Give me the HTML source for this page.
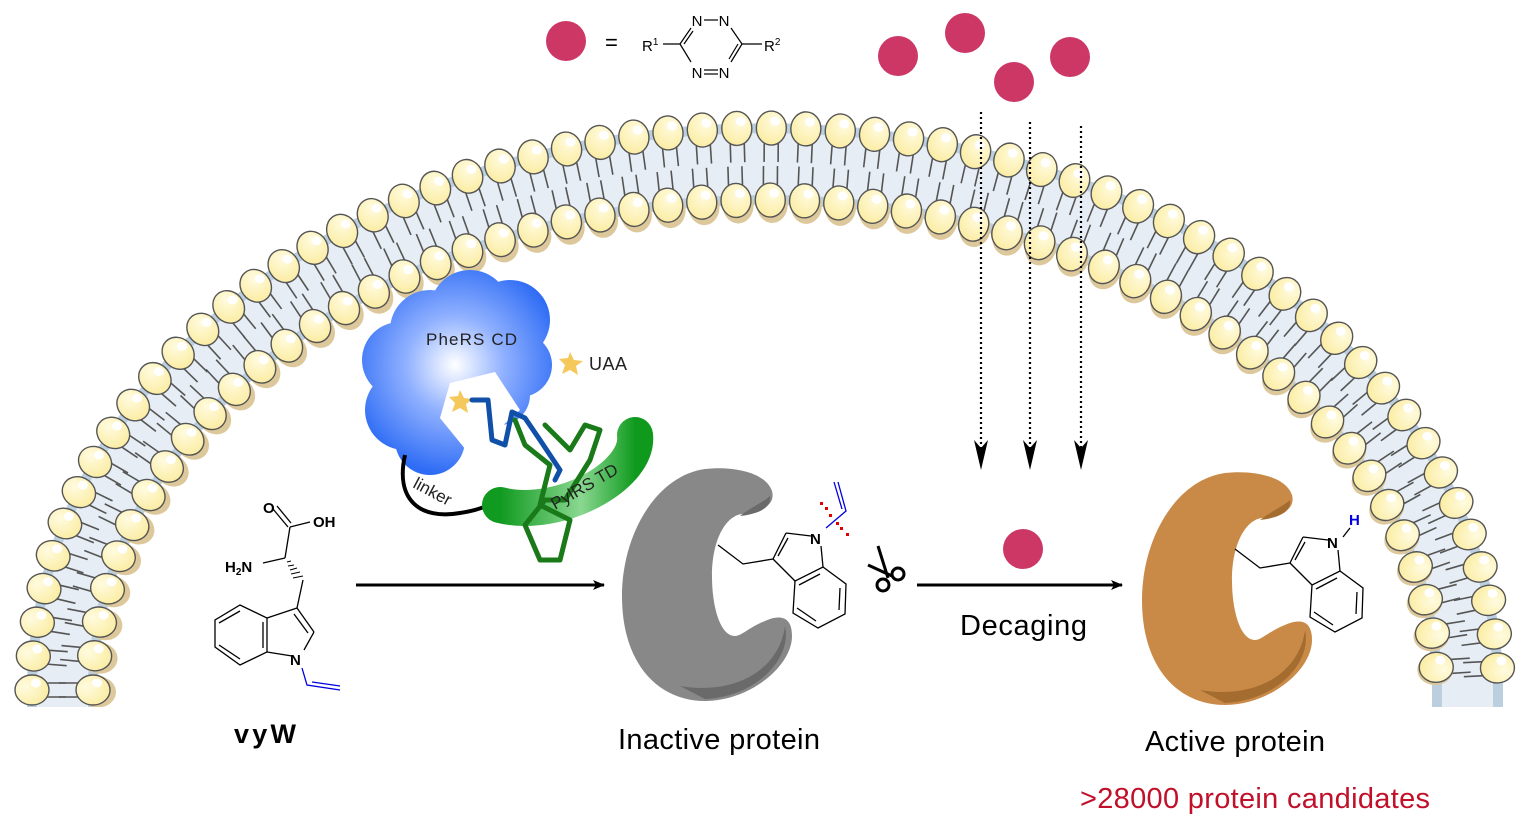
<!DOCTYPE html>
<html><head><meta charset="utf-8"><style>
html,body{margin:0;padding:0;background:#fff;}
svg{display:block;font-family:"Liberation Sans",sans-serif;}
</style></head><body>
<svg id="s" width="1528" height="830" viewBox="0 0 1528 830" xmlns="http://www.w3.org/2000/svg">
<defs>
<radialGradient id="head" cx="0.6" cy="0.3" r="0.8">
<stop offset="0" stop-color="#fffbe0"/><stop offset="1" stop-color="#fbeb9c"/></radialGradient>
<radialGradient id="cloud" gradientUnits="userSpaceOnUse" cx="455" cy="365" r="110">
<stop offset="0" stop-color="#ffffff"/><stop offset="0.45" stop-color="#8fb0ff"/><stop offset="1" stop-color="#2e6cf5"/></radialGradient>
<linearGradient id="green" x1="0" y1="0" x2="1" y2="0">
<stop offset="0" stop-color="#109a20"/><stop offset="0.6" stop-color="#8ad890"/><stop offset="1" stop-color="#0f9a1e"/></linearGradient>
<clipPath id="clip"><rect x="0" y="0" width="1528" height="707"/></clipPath>
<marker id="ar" markerWidth="12" markerHeight="10" refX="11" refY="5" orient="auto" markerUnits="userSpaceOnUse">
<path d="M0,0 L12,5 L0,10 L3,5 Z" fill="#000"/></marker>
</defs>
<g clip-path="url(#clip)">
<path d="M32,720 L32,690 A733,562 0 0 1 1498,690 L1498,720 L1437,720 L1437,690 A672,490 0 0 0 93,690 L93,720 Z" fill="#e6edf4"/>
<path d="M32,720 L32,690 A733,562 0 0 1 1498,690 L1498,720" fill="none" stroke="#bccfdf" stroke-width="10"/>
<path d="M1437,720 L1437,690 A672,490 0 0 0 93,690 L93,720" fill="none" stroke="#bccfdf" stroke-width="10"/>
<g id="mem"></g>
</g>

<!-- tetrazine legend -->
<circle cx="566" cy="41" r="20" fill="#cc3766"/>
<text x="605" y="50" font-size="22">=</text>
<g stroke="#000" stroke-width="1.2" fill="none">
<line x1="663" y1="44" x2="680" y2="44"/><line x1="742" y1="44" x2="762" y2="44"/>
<line x1="680" y1="44" x2="691" y2="28"/><line x1="684" y1="44" x2="693" y2="31"/>
<line x1="680" y1="44" x2="691" y2="62"/>
<line x1="742" y1="44" x2="731" y2="28"/><line x1="742" y1="44" x2="731" y2="62"/><line x1="738" y1="44" x2="729" y2="59"/>
<line x1="704" y1="20" x2="718" y2="20"/>
<line x1="704" y1="70" x2="718" y2="70"/><line x1="704" y1="74" x2="718" y2="74"/>
</g>
<g font-size="15" text-anchor="middle"><text x="697" y="26">N</text><text x="724" y="26">N</text><text x="697" y="78">N</text><text x="724" y="78">N</text></g>
<text x="642" y="51" font-size="15">R<tspan font-size="10" dy="-6">1</tspan></text>
<text x="764" y="51" font-size="15">R<tspan font-size="10" dy="-6">2</tspan></text>

<g fill="#cc3766">
<circle cx="898" cy="56" r="20"/><circle cx="965" cy="33" r="20"/><circle cx="1014" cy="82" r="20"/><circle cx="1070" cy="57" r="20"/>
<circle cx="1023" cy="549" r="20"/></g>

<g stroke="#000" stroke-width="2.2" stroke-dasharray="2,3" fill="none">
<line x1="981" y1="112" x2="981" y2="455"/><line x1="1030" y1="122" x2="1030" y2="455"/><line x1="1081" y1="126" x2="1081" y2="455"/></g>
<g fill="#000"><path d="M974,440 L981,470 L988,440 L981,448Z"/><path d="M1023,440 L1030,470 L1037,440 L1030,448Z"/><path d="M1074,440 L1081,470 L1088,440 L1081,448Z"/></g>

<!-- arrows -->
<line x1="356" y1="585" x2="604" y2="585" stroke="#000" stroke-width="3" marker-end="url(#ar)"/>
<line x1="917" y1="585" x2="1122" y2="585" stroke="#000" stroke-width="3" marker-end="url(#ar)"/>

<!-- cloud -->
<g fill="url(#cloud)">
<circle cx="470" cy="310" r="40"/><circle cx="510" cy="320" r="40"/><circle cx="430" cy="330" r="40"/>
<circle cx="400" cy="360" r="38"/><circle cx="405" cy="410" r="40"/><circle cx="430" cy="440" r="35"/>
<circle cx="520" cy="365" r="32"/><circle cx="460" cy="370" r="60"/><circle cx="500" cy="395" r="30"/></g>
<path d="M450,383 L495,372 L520,410 L470,455 L440,418 Z" fill="#fff"/>
<path d="M570,352 l4,8 9,1 -7,5 2,9 -8,-5 -8,4 3,-9 -6,-6 9,-1Z" fill="#f5c85c"/>
<path d="M460,390 l4,8 9,1 -7,5 2,9 -8,-5 -8,4 3,-9 -6,-6 9,-1Z" fill="#f5c85c"/>
<text x="426" y="345" font-size="17" fill="#222" textLength="91">PheRS CD</text>
<text x="589" y="370" font-size="18" fill="#222" textLength="38">UAA</text>
<path d="M405,455 C395,500 420,520 460,513 C480,510 490,505 495,500" fill="none" stroke="#000" stroke-width="4"/>
<text x="412" y="487" font-size="17" fill="#222" transform="rotate(28 412 487)">linker</text>
<path d="M500,505 C560,520 640,475 635,435" fill="none" stroke="url(#green)" stroke-width="36" stroke-linecap="round"/>
<g fill="none" stroke-width="5" stroke-linecap="round" stroke-linejoin="round">
<path d="M472,400 L488,400 L492,440 L505,445 L512,412 L525,418 L540,440 L560,470 L555,480" stroke="#1050a8"/>
<path d="M515,420 L525,445 L550,465 L540,505 L570,520 L560,560 L540,560 L525,525 L545,500 L565,500 L590,460 L600,430 L585,425 L570,450 L545,425" stroke="#1a7a1a"/>
</g>
<text x="555" y="510" font-size="17" fill="#222" transform="rotate(-30 555 510)">PylRS TD</text>

<!-- proteins -->
<path d="M1262,518 C1280,516 1296,510 1292,495 C1285,475 1250,470 1225,473 C1175,480 1142,540 1142,600 C1142,670 1180,705 1225,705 C1270,705 1312,670 1312,640 C1312,620 1300,620 1290,623 C1270,630 1262,640 1255,640 C1240,640 1232,610 1232,580 C1232,545 1245,520 1262,518 Z" fill="#c98a48"/>
<path d="M1200,690 C1260,700 1300,670 1305,630 C1312,660 1280,700 1225,703Z" fill="#a56c30"/>
<path d="M1260,520 C1270,512 1285,505 1290,500 C1292,512 1278,518 1260,520Z" fill="#a56c30"/>
<g transform="translate(-520,-4)">
<path d="M1262,518 C1280,516 1296,510 1292,495 C1285,475 1250,470 1225,473 C1175,480 1142,540 1142,600 C1142,670 1180,705 1225,705 C1270,705 1312,670 1312,640 C1312,620 1300,620 1290,623 C1270,630 1262,640 1255,640 C1240,640 1232,610 1232,580 C1232,545 1245,520 1262,518 Z" fill="#888"/>
<path d="M1200,690 C1260,700 1300,670 1305,630 C1312,660 1280,700 1225,703Z" fill="#6a6a6a"/>
<path d="M1260,520 C1270,512 1285,505 1290,500 C1292,512 1278,518 1260,520Z" fill="#6a6a6a"/>
</g>

<!-- indoles -->
<g stroke="#000" stroke-width="1.3" fill="none">
<polyline points="1235,549 1260,568 1290,563"/>
<line x1="1290" y1="563" x2="1303" y2="537"/><line x1="1295" y1="560" x2="1305" y2="542"/>
<line x1="1303" y1="537" x2="1328" y2="540"/>
<line x1="1338" y1="550" x2="1340" y2="571"/>
<line x1="1290" y1="563" x2="1312" y2="585"/>
<polygon points="1340,571 1363,588 1362,618 1335,632 1310,617 1312,585"/>
<line x1="1316" y1="589" x2="1337" y2="578"/><line x1="1357" y1="592" x2="1356" y2="614"/><line x1="1314" y1="612" x2="1333" y2="625"/>
</g>
<text x="1327" y="548" font-size="15" font-weight="bold">N</text>
<text x="1349" y="525" font-size="15" font-weight="bold" fill="#0000e0">H</text>
<line x1="1343" y1="537" x2="1350" y2="528" stroke="#000" stroke-width="1.3"/>
<g transform="translate(-517,-4)">
<g stroke="#000" stroke-width="1.3" fill="none">
<polyline points="1235,549 1260,568 1290,563"/>
<line x1="1290" y1="563" x2="1303" y2="537"/><line x1="1295" y1="560" x2="1305" y2="542"/>
<line x1="1303" y1="537" x2="1328" y2="540"/>
<line x1="1338" y1="550" x2="1340" y2="571"/>
<line x1="1290" y1="563" x2="1312" y2="585"/>
<polygon points="1340,571 1363,588 1362,618 1335,632 1310,617 1312,585"/>
<line x1="1316" y1="589" x2="1337" y2="578"/><line x1="1357" y1="592" x2="1356" y2="614"/><line x1="1314" y1="612" x2="1333" y2="625"/>
</g>
<text x="1327" y="548" font-size="15" font-weight="bold">N</text>
</g>
<g stroke="#0000e0" stroke-width="1.3" fill="none">
<polyline points="826,528 846,511 838,482"/><line x1="842" y1="509" x2="834" y2="482"/>
</g>
<g fill="#e00000"><rect x="820" y="502" width="3" height="3"/><rect x="825" y="507" width="3" height="3"/><rect x="829" y="514" width="3" height="3"/><rect x="836" y="522" width="3" height="3"/><rect x="840" y="527" width="3" height="3"/><rect x="846" y="533" width="3" height="3"/></g>

<!-- scissors -->
<g stroke="#000" stroke-width="3" fill="none">
<circle cx="883" cy="585" r="6"/><circle cx="898" cy="574" r="6"/>
<line x1="878" y1="546" x2="888" y2="578"/><line x1="868" y1="565" x2="892" y2="576"/></g>

<!-- vyW -->
<g stroke="#000" stroke-width="1.3" fill="none">
<line x1="273" y1="509" x2="288" y2="527"/><line x1="277" y1="506" x2="291" y2="523"/>
<line x1="290" y1="527" x2="310" y2="522"/>
<line x1="290" y1="527" x2="285" y2="558"/>
<line x1="263" y1="563" x2="285" y2="558"/>
<line x1="297" y1="608" x2="303" y2="580"/>
<line x1="297" y1="608" x2="314" y2="632"/><line x1="294" y1="614" x2="308" y2="633"/>
<line x1="314" y1="632" x2="304" y2="650"/>
<line x1="292" y1="656" x2="267" y2="652"/>
<line x1="297" y1="608" x2="267" y2="618"/>
<polygon points="267,618 267,652 240,665 215,647 215,620 240,605"/>
<line x1="263" y1="622" x2="263" y2="648"/><line x1="219" y1="623" x2="240" y2="611"/><line x1="219" y1="645" x2="240" y2="659"/>
</g>
<g stroke="#000" stroke-width="1"><line x1="287" y1="562" x2="291" y2="561"/><line x1="288" y1="566" x2="294" y2="565"/><line x1="290" y1="570" x2="297" y2="568"/><line x1="291" y1="574" x2="300" y2="572"/><line x1="293" y1="578" x2="303" y2="576"/></g>
<g stroke="#0000e0" stroke-width="1.3" fill="none"><polyline points="302,668 307,685 340,690"/><line x1="312" y1="682" x2="340" y2="686"/></g>
<g font-size="15" font-weight="bold">
<text x="263" y="513">O</text><text x="313" y="527">OH</text><text x="225" y="572">H<tspan font-size="10" dy="3">2</tspan><tspan dy="-3">N</tspan></text><text x="290" y="665">N</text></g>

<text x="234" y="743" font-size="27" font-weight="bold" textLength="62">vyW</text>
<text x="618" y="749" font-size="29" textLength="202">Inactive protein</text>
<text x="960" y="635" font-size="29" textLength="127">Decaging</text>
<text x="1145" y="751" font-size="29" textLength="180">Active protein</text>
<text x="1080" y="808" font-size="29" fill="#c0102a" textLength="350">&gt;28000 protein candidates</text>

<script>
(function(){
var g=document.getElementById('mem'),NS='http://www.w3.org/2000/svg';
var cx=765,cy=690;
function row(rx,ry){
 var pts=[],N=4000,prev=null,step=34,acc=0;
 for(var i=0;i<=N;i++){var t=Math.PI*i/N;var x=cx-rx*Math.cos(t),y=cy-ry*Math.sin(t);
  if(prev){acc+=Math.hypot(x-prev[0],y-prev[1]);}
  if(!prev||acc>=step){pts.push([x,y,t]);acc=0;}prev=[x,y];}
 return pts;
}
function add(tag,at){var e=document.createElementNS(NS,tag);for(var k in at)e.setAttribute(k,at[k]);g.appendChild(e);return e;}
var outer=row(733,562),inn=row(672,490);
function tails(pts,rx,ry,dir){pts.forEach(function(p){var ex=-Math.cos(p[2])*ry, ey=-Math.sin(p[2])*rx;var l=Math.hypot(ex,ey);ex/=l;ey/=l;
 var tx=-ey,ty=ex;
 for(var s=-1;s<=1;s+=2){var bx=p[0]+tx*s*7,by=p[1]+ty*s*7;
  add('line',{x1:bx-ex*dir*14,y1:by-ey*dir*14,x2:bx-ex*dir*34,y2:by-ey*dir*34,stroke:'#555','stroke-width':1.6});}
});}
tails(outer,733,562,1);tails(inn,672,490,-1);
function heads(pts,rx,ry,sh){pts.forEach(function(p){
 var ex=-Math.cos(p[2])*ry, ey=-Math.sin(p[2])*rx;var l=Math.hypot(ex,ey);ex/=l;ey/=l;
 var ang=Math.atan2(ey,ex)*180/Math.PI;
 if(sh)add('ellipse',{cx:p[0]-ex*3+2,cy:p[1]-ey*3+2,rx:18,ry:15.5,fill:'#dcc89a',transform:'rotate('+ang+' '+(p[0]-ex*3+2)+' '+(p[1]-ey*3+2)+')'});
 add('ellipse',{cx:p[0],cy:p[1],rx:15,ry:17,fill:'url(#head)',stroke:'#555','stroke-width':1.4,transform:'rotate('+(ang+90)+' '+p[0]+' '+p[1]+')'});
 add('ellipse',{cx:p[0]+4,cy:p[1]-7,rx:5,ry:4.5,fill:'#fff'});
});}
heads(outer,733,562,false);heads(inn,672,490,true);
})();
</script>
</svg>
</body></html>
